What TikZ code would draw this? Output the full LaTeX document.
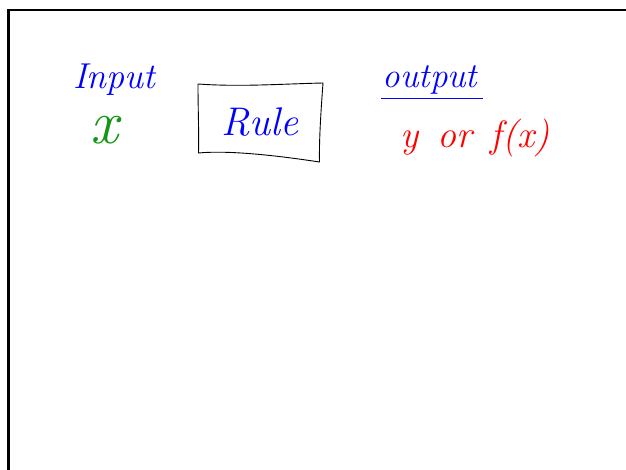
\documentclass[tikz,border=0pt]{standalone}
\usepackage{fontspec}
\begin{document}
\begin{tikzpicture}[x=1pt,y=-1pt,
  hand/.style={font=\fontsize{36}{40}\selectfont\itshape, inner sep=0pt},
  pen/.style={line width=1.1pt, line cap=round, line join=round}]
\useasboundingbox (0,0) rectangle (626,470);
\fill[white] (0,0) rectangle (626,470);
% border of the board
\draw[line width=2.6pt] (8.5,480) -- (8.5,10) -- (640,10);
% input
\node[hand, text=blue] (input) at (114,80) {Input};
\node[hand, text={rgb,255:red,20;green,150;blue,20}, font=\fontsize{62}{64}\selectfont\itshape] (x) at (104,130) {x};
% rule box
\coordinate (tl) at (198,84);
\coordinate (tr) at (323,83);
\coordinate (br) at (319.5,162);
\coordinate (bl) at (198.5,153);
\draw[pen, line width=0.9pt] (tl) .. controls (240,87) and (280,84) .. (tr)
  .. controls (321,110) and (319,140) .. (br)
  .. controls (280,156) and (230,150) .. (bl)
  .. controls (199,130) and (198,110) .. (tl);
\node[hand, text=blue, font=\fontsize{40}{44}\selectfont\itshape] (rule) at (260,122) {Rule};
% output
\node[hand, text=blue, font=\fontsize{35}{38}\selectfont\itshape] (output) at (430,80) {output};
\coordinate (u1) at (381,98);
\coordinate (u2) at (483,98);
\draw[blue, line width=0.9pt] (u1) -- (u2);
\node[hand, text=red, font=\fontsize{38}{42}\selectfont\itshape] (y) at (475,138) {y\hspace{0.5em}or\hspace{0.5em}f(x)};
\end{tikzpicture}
\end{document}
